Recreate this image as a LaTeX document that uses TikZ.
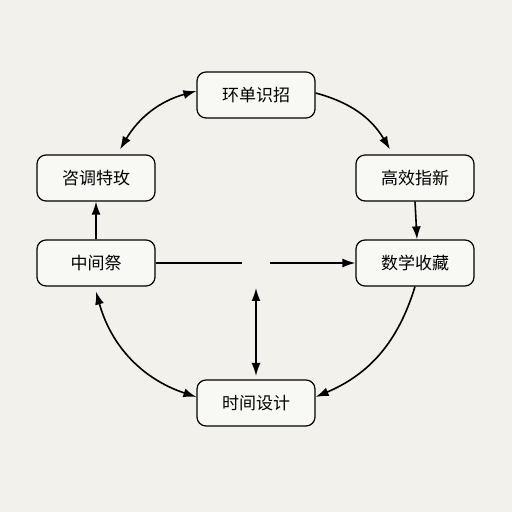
\documentclass[tikz,border=0pt]{standalone}
\usepackage{fontspec}
\newfontfamily\cjk{Noto Sans CJK SC}
\usepackage{tikz}
\usetikzlibrary{arrows}
\usetikzlibrary{arrows.meta}

\begin{document}
\begin{tikzpicture}[x=1pt,y=1pt]
		\tikzset{box/.style={draw, rounded corners=9pt, line width=1.2pt, fill=white!50!bgc, minimum width=118pt, minimum height=46pt, font=\cjk\fontsize{17}{20}\selectfont}};
		\tikzset{link/.style={line width=1.6pt, >={Latex[length=13pt,width=9pt]}}};
		\definecolor{bgc}{HTML}{F2F1EC}
		\fill[bgc] (0,0) rectangle (512,512);
		\useasboundingbox (0,0) rectangle (512,512);
		\node[box] (top) at (256,417) {环单识招};
		\node[box] (tl) at (96,334) {咨调特玫};
		\node[box] (tr) at (415,334) {高效指新};
		\node[box] (ml) at (96,249) {中间祭};
		\node[box] (mr) at (415,249) {数学收藏};
		\node[box] (bot) at (256,109) {时间设计};
		\coordinate (gapl) at (242,249);
		\coordinate (gapr) at (270,249);
		\coordinate (vtop) at (256,224);
		\coordinate (vbot) at (256,136);
		\draw[link,<->] ([xshift=24pt,yshift=5pt]tl.north) to[bend left=22] ([yshift=4pt]top.west);
		\draw[link,->] ([yshift=2pt]top.east) to[bend left=22] ([xshift=-25pt,yshift=5pt]tr.north);
		\draw[link,->] (ml.north) -- (tl.south);
		\draw[link,->] (tr.south) -- ([xshift=2pt]mr.north);
		\draw[link] (ml.east) -- (gapl);
		\draw[link,->] (gapr) -- (mr.west);
		\draw[link,<->] (vtop) -- (vbot);
		\draw[link,<->] ([yshift=-5pt]ml.south) to[bend right=28] ([yshift=6pt]bot.west);
		\draw[link,->] (mr.south) to[bend left=25] ([yshift=6pt]bot.east);
	\end{tikzpicture}
\end{document}
